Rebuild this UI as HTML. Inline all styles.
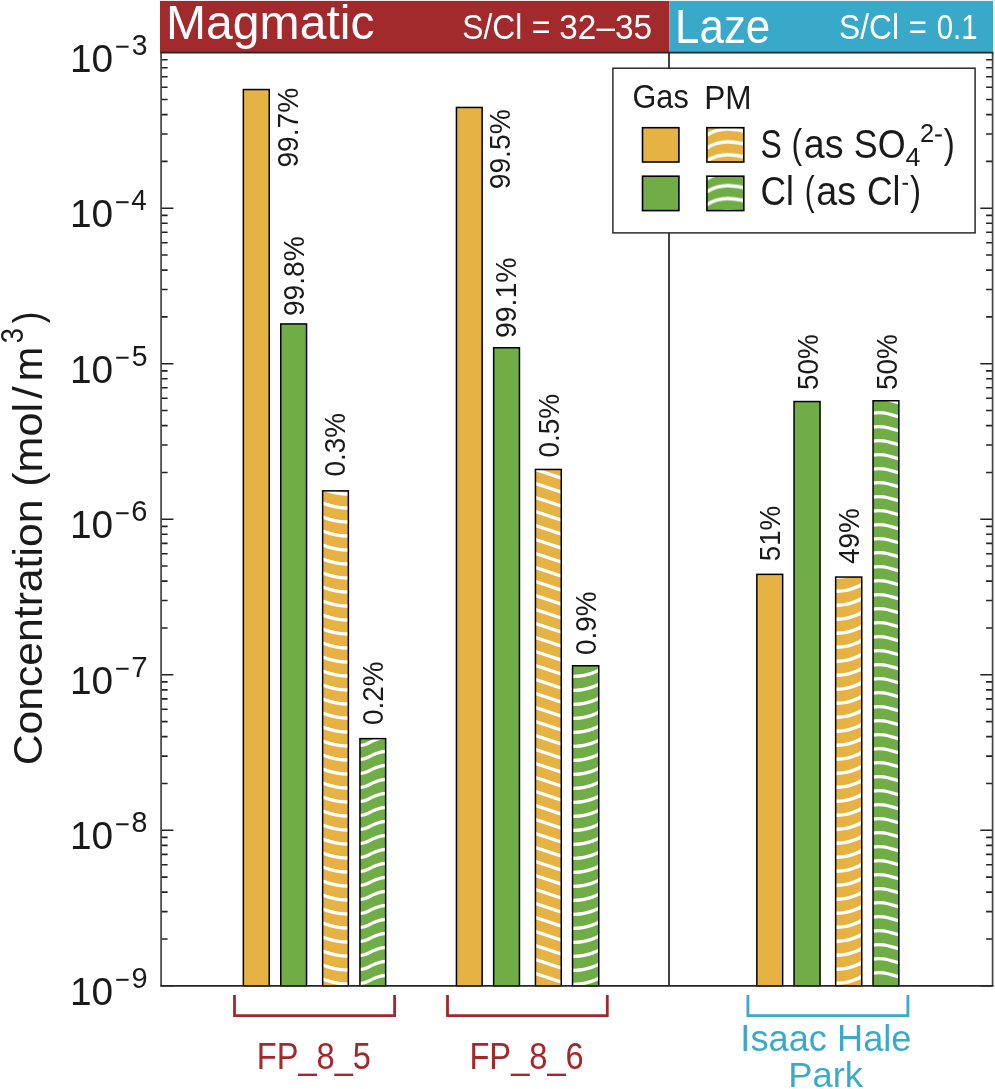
<!DOCTYPE html>
<html><head><meta charset="utf-8"><style>
html,body{margin:0;padding:0;background:#fff;}
body{width:995px;height:1089px;overflow:hidden;font-family:"Liberation Sans",sans-serif;}
svg{display:block;will-change:transform;}
</style></head><body>
<svg width="995" height="1089" viewBox="0 0 995 1089">
<defs>
<pattern id="h3" patternUnits="userSpaceOnUse" x="321.90" y="0" width="27.20" height="14.0"><rect width="27.20" height="14.0" fill="#E6B243"/><path d="M0,0 Q13.60,5.5 27.20,5.5" transform="translate(0,-15.30)" fill="none" stroke="#fff" stroke-width="3.3"/><path d="M0,0 Q13.60,5.5 27.20,5.5" transform="translate(0,-1.30)" fill="none" stroke="#fff" stroke-width="3.3"/><path d="M0,0 Q13.60,5.5 27.20,5.5" transform="translate(0,12.70)" fill="none" stroke="#fff" stroke-width="3.3"/><path d="M0,0 Q13.60,5.5 27.20,5.5" transform="translate(0,26.70)" fill="none" stroke="#fff" stroke-width="3.3"/><path d="M0,0 Q13.60,5.5 27.20,5.5" transform="translate(0,40.70)" fill="none" stroke="#fff" stroke-width="3.3"/></pattern>
<pattern id="h4" patternUnits="userSpaceOnUse" x="359.20" y="0" width="27.20" height="14.0"><rect width="27.20" height="14.0" fill="#71AD47"/><path d="M0,0 C10.34,0.3 13.60,-8.2 27.20,-8.2" transform="translate(0,-24.50)" fill="none" stroke="#fff" stroke-width="3.3"/><path d="M0,0 C10.34,0.3 13.60,-8.2 27.20,-8.2" transform="translate(0,-10.50)" fill="none" stroke="#fff" stroke-width="3.3"/><path d="M0,0 C10.34,0.3 13.60,-8.2 27.20,-8.2" transform="translate(0,3.50)" fill="none" stroke="#fff" stroke-width="3.3"/><path d="M0,0 C10.34,0.3 13.60,-8.2 27.20,-8.2" transform="translate(0,17.50)" fill="none" stroke="#fff" stroke-width="3.3"/><path d="M0,0 C10.34,0.3 13.60,-8.2 27.20,-8.2" transform="translate(0,31.50)" fill="none" stroke="#fff" stroke-width="3.3"/></pattern>
<pattern id="h7" patternUnits="userSpaceOnUse" x="534.70" y="0" width="27.30" height="14.0"><rect width="27.30" height="14.0" fill="#E6B243"/><path d="M0,0 Q13.65,4.4 27.30,9.0" transform="translate(0,-20.70)" fill="none" stroke="#fff" stroke-width="3.3"/><path d="M0,0 Q13.65,4.4 27.30,9.0" transform="translate(0,-6.70)" fill="none" stroke="#fff" stroke-width="3.3"/><path d="M0,0 Q13.65,4.4 27.30,9.0" transform="translate(0,7.30)" fill="none" stroke="#fff" stroke-width="3.3"/><path d="M0,0 Q13.65,4.4 27.30,9.0" transform="translate(0,21.30)" fill="none" stroke="#fff" stroke-width="3.3"/><path d="M0,0 Q13.65,4.4 27.30,9.0" transform="translate(0,35.30)" fill="none" stroke="#fff" stroke-width="3.3"/></pattern>
<pattern id="h8" patternUnits="userSpaceOnUse" x="571.80" y="0" width="27.70" height="14.0"><rect width="27.70" height="14.0" fill="#71AD47"/><path d="M0,0 Q13.85,0.6 27.70,-6.5" transform="translate(0,-23.60)" fill="none" stroke="#fff" stroke-width="3.3"/><path d="M0,0 Q13.85,0.6 27.70,-6.5" transform="translate(0,-9.60)" fill="none" stroke="#fff" stroke-width="3.3"/><path d="M0,0 Q13.85,0.6 27.70,-6.5" transform="translate(0,4.40)" fill="none" stroke="#fff" stroke-width="3.3"/><path d="M0,0 Q13.85,0.6 27.70,-6.5" transform="translate(0,18.40)" fill="none" stroke="#fff" stroke-width="3.3"/><path d="M0,0 Q13.85,0.6 27.70,-6.5" transform="translate(0,32.40)" fill="none" stroke="#fff" stroke-width="3.3"/></pattern>
<pattern id="h11" patternUnits="userSpaceOnUse" x="834.90" y="0" width="27.60" height="14.0"><rect width="27.60" height="14.0" fill="#E6B243"/><path d="M0,0 Q13.80,0.6 27.60,-6.9" transform="translate(0,-24.80)" fill="none" stroke="#fff" stroke-width="3.3"/><path d="M0,0 Q13.80,0.6 27.60,-6.9" transform="translate(0,-10.80)" fill="none" stroke="#fff" stroke-width="3.3"/><path d="M0,0 Q13.80,0.6 27.60,-6.9" transform="translate(0,3.20)" fill="none" stroke="#fff" stroke-width="3.3"/><path d="M0,0 Q13.80,0.6 27.60,-6.9" transform="translate(0,17.20)" fill="none" stroke="#fff" stroke-width="3.3"/><path d="M0,0 Q13.80,0.6 27.60,-6.9" transform="translate(0,31.20)" fill="none" stroke="#fff" stroke-width="3.3"/></pattern>
<pattern id="h12" patternUnits="userSpaceOnUse" x="872.30" y="0" width="27.30" height="14.0"><rect width="27.30" height="14.0" fill="#71AD47"/><path d="M0,0 C10.37,-1.3 13.65,0.2 27.30,3.8" transform="translate(0,-20.90)" fill="none" stroke="#fff" stroke-width="3.3"/><path d="M0,0 C10.37,-1.3 13.65,0.2 27.30,3.8" transform="translate(0,-6.90)" fill="none" stroke="#fff" stroke-width="3.3"/><path d="M0,0 C10.37,-1.3 13.65,0.2 27.30,3.8" transform="translate(0,7.10)" fill="none" stroke="#fff" stroke-width="3.3"/><path d="M0,0 C10.37,-1.3 13.65,0.2 27.30,3.8" transform="translate(0,21.10)" fill="none" stroke="#fff" stroke-width="3.3"/><path d="M0,0 C10.37,-1.3 13.65,0.2 27.30,3.8" transform="translate(0,35.10)" fill="none" stroke="#fff" stroke-width="3.3"/></pattern>
<pattern id="lgS" patternUnits="userSpaceOnUse" x="706.2" y="128.90" width="40.00" height="12.9"><rect width="40.00" height="12.9" fill="#E6B243"/><path d="M0,6.6 Q9.77,0 21.70,0 Q29.70,0 40.00,2.6" transform="translate(0,-25.80)" fill="none" stroke="#fff" stroke-width="3.4"/><path d="M0,6.6 Q9.77,0 21.70,0 Q29.70,0 40.00,2.6" transform="translate(0,-12.90)" fill="none" stroke="#fff" stroke-width="3.4"/><path d="M0,6.6 Q9.77,0 21.70,0 Q29.70,0 40.00,2.6" transform="translate(0,0.00)" fill="none" stroke="#fff" stroke-width="3.4"/><path d="M0,6.6 Q9.77,0 21.70,0 Q29.70,0 40.00,2.6" transform="translate(0,12.90)" fill="none" stroke="#fff" stroke-width="3.4"/><path d="M0,6.6 Q9.77,0 21.70,0 Q29.70,0 40.00,2.6" transform="translate(0,25.80)" fill="none" stroke="#fff" stroke-width="3.4"/></pattern>
<pattern id="lgC" patternUnits="userSpaceOnUse" x="706.2" y="172.70" width="40.00" height="12.9"><rect width="40.00" height="12.9" fill="#71AD47"/><path d="M0,6.6 Q9.77,0 21.70,0 Q29.70,0 40.00,2.6" transform="translate(0,-25.80)" fill="none" stroke="#fff" stroke-width="3.4"/><path d="M0,6.6 Q9.77,0 21.70,0 Q29.70,0 40.00,2.6" transform="translate(0,-12.90)" fill="none" stroke="#fff" stroke-width="3.4"/><path d="M0,6.6 Q9.77,0 21.70,0 Q29.70,0 40.00,2.6" transform="translate(0,0.00)" fill="none" stroke="#fff" stroke-width="3.4"/><path d="M0,6.6 Q9.77,0 21.70,0 Q29.70,0 40.00,2.6" transform="translate(0,12.90)" fill="none" stroke="#fff" stroke-width="3.4"/><path d="M0,6.6 Q9.77,0 21.70,0 Q29.70,0 40.00,2.6" transform="translate(0,25.80)" fill="none" stroke="#fff" stroke-width="3.4"/></pattern>
</defs>
<rect width="995" height="1089" fill="#fff"/>
<rect x="160.0" y="0.9" width="509.30" height="51.50" fill="#A32A2C"/>
<rect x="669.3" y="0.9" width="323.70" height="51.50" fill="#38A9C8"/>
<rect x="243.35" y="89.55" width="25.90" height="896.25" fill="#E6B243" stroke="#000" stroke-width="1.5"/>
<rect x="280.75" y="323.95" width="25.80" height="661.85" fill="#71AD47" stroke="#000" stroke-width="1.5"/>
<rect x="322.65" y="490.85" width="25.70" height="494.95" fill="url(#h3)" stroke="#000" stroke-width="1.5"/>
<rect x="359.95" y="738.65" width="25.70" height="247.15" fill="url(#h4)" stroke="#000" stroke-width="1.5"/>
<rect x="456.45" y="107.45" width="25.70" height="878.35" fill="#E6B243" stroke="#000" stroke-width="1.5"/>
<rect x="493.65" y="347.75" width="25.80" height="638.05" fill="#71AD47" stroke="#000" stroke-width="1.5"/>
<rect x="535.45" y="469.45" width="25.80" height="516.35" fill="url(#h7)" stroke="#000" stroke-width="1.5"/>
<rect x="572.55" y="665.75" width="26.20" height="320.05" fill="url(#h8)" stroke="#000" stroke-width="1.5"/>
<rect x="756.85" y="574.35" width="25.80" height="411.45" fill="#E6B243" stroke="#000" stroke-width="1.5"/>
<rect x="794.05" y="401.55" width="26.00" height="584.25" fill="#71AD47" stroke="#000" stroke-width="1.5"/>
<rect x="835.65" y="577.05" width="26.10" height="408.75" fill="url(#h11)" stroke="#000" stroke-width="1.5"/>
<rect x="873.05" y="400.75" width="25.80" height="585.05" fill="url(#h12)" stroke="#000" stroke-width="1.5"/>
<path d="M161.10,985.80h12.3M992.60,985.80h-12.3M161.10,938.98h6.5M992.60,938.98h-6.5M161.10,911.60h6.5M992.60,911.60h-6.5M161.10,892.17h6.5M992.60,892.17h-6.5M161.10,877.10h6.5M992.60,877.10h-6.5M161.10,864.78h6.5M992.60,864.78h-6.5M161.10,854.37h6.5M992.60,854.37h-6.5M161.10,845.35h6.5M992.60,845.35h-6.5M161.10,837.40h6.5M992.60,837.40h-6.5M161.10,830.28h12.3M992.60,830.28h-12.3M161.10,783.47h6.5M992.60,783.47h-6.5M161.10,756.08h6.5M992.60,756.08h-6.5M161.10,736.65h6.5M992.60,736.65h-6.5M161.10,721.58h6.5M992.60,721.58h-6.5M161.10,709.27h6.5M992.60,709.27h-6.5M161.10,698.86h6.5M992.60,698.86h-6.5M161.10,689.84h6.5M992.60,689.84h-6.5M161.10,681.88h6.5M992.60,681.88h-6.5M161.10,674.77h12.3M992.60,674.77h-12.3M161.10,627.95h6.5M992.60,627.95h-6.5M161.10,600.57h6.5M992.60,600.57h-6.5M161.10,581.14h6.5M992.60,581.14h-6.5M161.10,566.07h6.5M992.60,566.07h-6.5M161.10,553.75h6.5M992.60,553.75h-6.5M161.10,543.34h6.5M992.60,543.34h-6.5M161.10,534.32h6.5M992.60,534.32h-6.5M161.10,526.37h6.5M992.60,526.37h-6.5M161.10,519.25h12.3M992.60,519.25h-12.3M161.10,472.43h6.5M992.60,472.43h-6.5M161.10,445.05h6.5M992.60,445.05h-6.5M161.10,425.62h6.5M992.60,425.62h-6.5M161.10,410.55h6.5M992.60,410.55h-6.5M161.10,398.23h6.5M992.60,398.23h-6.5M161.10,387.82h6.5M992.60,387.82h-6.5M161.10,378.80h6.5M992.60,378.80h-6.5M161.10,370.85h6.5M992.60,370.85h-6.5M161.10,363.73h12.3M992.60,363.73h-12.3M161.10,316.92h6.5M992.60,316.92h-6.5M161.10,289.53h6.5M992.60,289.53h-6.5M161.10,270.10h6.5M992.60,270.10h-6.5M161.10,255.03h6.5M992.60,255.03h-6.5M161.10,242.72h6.5M992.60,242.72h-6.5M161.10,232.31h6.5M992.60,232.31h-6.5M161.10,223.29h6.5M992.60,223.29h-6.5M161.10,215.33h6.5M992.60,215.33h-6.5M161.10,208.22h12.3M992.60,208.22h-12.3M161.10,161.40h6.5M992.60,161.40h-6.5M161.10,134.02h6.5M992.60,134.02h-6.5M161.10,114.59h6.5M992.60,114.59h-6.5M161.10,99.52h6.5M992.60,99.52h-6.5M161.10,87.20h6.5M992.60,87.20h-6.5M161.10,76.79h6.5M992.60,76.79h-6.5M161.10,67.77h6.5M992.60,67.77h-6.5M161.10,59.82h6.5M992.60,59.82h-6.5" stroke="#222" stroke-width="1.6" fill="none"/>
<path d="M161.10,52.70V985.80M992.60,985.80V52.70" stroke="#444" stroke-width="1.7" fill="none"/>
<path d="M160.25,52.70H993.45M160.25,985.80H993.45" stroke="#262626" stroke-width="1.7" fill="none"/>
<path d="M669.00,52.70V985.80" stroke="#222" stroke-width="1.7" fill="none"/>
<rect x="612.9" y="68.2" width="362.20" height="164.70" fill="#fff" stroke="#2a2a2a" stroke-width="1.5"/>
<rect x="642.50" y="127.70" width="36.40" height="34.30" fill="#E6B243" stroke="#000" stroke-width="1.6"/>
<rect x="706.90" y="127.70" width="36.90" height="34.30" fill="url(#lgS)" stroke="#000" stroke-width="1.6"/>
<rect x="642.50" y="176.20" width="36.40" height="34.40" fill="#71AD47" stroke="#000" stroke-width="1.6"/>
<rect x="706.90" y="176.20" width="36.90" height="34.40" fill="url(#lgC)" stroke="#000" stroke-width="1.6"/>
<g font-family="Liberation Sans, sans-serif" style="font-kerning:none;font-variant-ligatures:none">
<text transform="translate(166.05,39.00) scale(1.0029,1)" font-size="47.97" fill="#fff">Magmatic</text>
<text transform="translate(462.36,38.90) scale(0.8953,1)" font-size="35.45" fill="#fff">S/Cl</text>
<text transform="translate(531.83,38.90) scale(0.9057,1)" font-size="35.45" fill="#fff">=</text>
<text transform="translate(559.33,38.90) scale(0.9400,1)" font-size="35.45" fill="#fff">32–35</text>
<text transform="translate(674.99,42.60) scale(0.9196,1)" font-size="47.82" fill="#fff">Laze</text>
<text transform="translate(839.06,38.90) scale(0.9062,1)" font-size="35.03" fill="#fff">S/Cl</text>
<text transform="translate(908.68,38.90) scale(0.8873,1)" font-size="35.03" fill="#fff">=</text>
<text transform="translate(936.75,38.90) scale(0.8374,1)" font-size="35.03" fill="#fff">0.1</text>
<text transform="translate(632.56,108.30) scale(0.9198,1)" font-size="33.28" fill="#1a1a1a">Gas</text>
<text transform="translate(704.31,108.50) scale(0.9490,1)" font-size="33.28" fill="#1a1a1a">PM</text>
<text transform="translate(760.45,158.20) scale(0.7892,1)" font-size="40.50" fill="#1a1a1a">S</text>
<text transform="translate(791.51,158.20) scale(0.7916,1)" font-size="40.50" fill="#1a1a1a">(</text>
<text transform="translate(803.81,158.20) scale(0.9270,1)" font-size="40.50" fill="#1a1a1a">as</text>
<text transform="translate(853.87,158.20) scale(0.8860,1)" font-size="40.50" fill="#1a1a1a">SO</text>
<text transform="translate(905.59,165.90) scale(1.0072,1)" font-size="26.60" fill="#1a1a1a">4</text>
<text transform="translate(920.02,142.20) scale(1.0015,1)" font-size="25.42" fill="#1a1a1a">2</text>
<rect x="935.1" y="134.4" width="6.7" height="2.1" fill="#1a1a1a"/>
<text transform="translate(943.81,158.20) scale(0.8195,1)" font-size="40.50" fill="#1a1a1a">)</text>
<text transform="translate(760.41,205.00) scale(0.8722,1)" font-size="40.50" fill="#1a1a1a">Cl</text>
<text transform="translate(804.85,205.00) scale(0.7357,1)" font-size="40.50" fill="#1a1a1a">(</text>
<text transform="translate(816.20,205.00) scale(0.9320,1)" font-size="40.50" fill="#1a1a1a">as</text>
<text transform="translate(867.00,205.00) scale(0.8752,1)" font-size="40.50" fill="#1a1a1a">Cl</text>
<rect x="902.5" y="182.8" width="5.5" height="2.0" fill="#1a1a1a"/>
<text transform="translate(910.11,205.00) scale(0.8195,1)" font-size="40.50" fill="#1a1a1a">)</text>
<text transform="translate(70.04,71.50) scale(1.0154,1)" font-size="38.23" fill="#1a1a1a">10</text>
<rect x="116.2" y="45.70" width="12.4" height="2.0" fill="#1a1a1a"/>
<text transform="translate(131.72,54.90) scale(0.9529,1)" font-size="29.66" fill="#1a1a1a">3</text>
<text transform="translate(70.04,227.02) scale(1.0154,1)" font-size="38.23" fill="#1a1a1a">10</text>
<rect x="116.2" y="201.22" width="12.4" height="2.0" fill="#1a1a1a"/>
<text transform="translate(131.16,210.42) scale(0.9367,1)" font-size="29.66" fill="#1a1a1a">4</text>
<text transform="translate(70.04,382.53) scale(1.0154,1)" font-size="38.23" fill="#1a1a1a">10</text>
<rect x="116.2" y="356.73" width="12.4" height="2.0" fill="#1a1a1a"/>
<text transform="translate(131.67,365.93) scale(0.9529,1)" font-size="29.66" fill="#1a1a1a">5</text>
<text transform="translate(70.04,538.05) scale(1.0154,1)" font-size="38.23" fill="#1a1a1a">10</text>
<rect x="116.2" y="512.25" width="12.4" height="2.0" fill="#1a1a1a"/>
<text transform="translate(131.33,521.45) scale(0.9791,1)" font-size="29.66" fill="#1a1a1a">6</text>
<text transform="translate(70.04,693.57) scale(1.0154,1)" font-size="38.23" fill="#1a1a1a">10</text>
<rect x="116.2" y="667.77" width="12.4" height="2.0" fill="#1a1a1a"/>
<text transform="translate(131.29,676.97) scale(0.9938,1)" font-size="29.66" fill="#1a1a1a">7</text>
<text transform="translate(70.04,849.08) scale(1.0154,1)" font-size="38.23" fill="#1a1a1a">10</text>
<rect x="116.2" y="823.28" width="12.4" height="2.0" fill="#1a1a1a"/>
<text transform="translate(131.56,832.48) scale(0.9628,1)" font-size="29.66" fill="#1a1a1a">8</text>
<text transform="translate(70.04,1004.60) scale(1.0154,1)" font-size="38.23" fill="#1a1a1a">10</text>
<rect x="116.2" y="978.80" width="12.4" height="2.0" fill="#1a1a1a"/>
<text transform="translate(131.44,988.00) scale(0.9780,1)" font-size="29.66" fill="#1a1a1a">9</text>
<text transform="translate(42.00,765.37) rotate(-90) scale(1.0339,1)" font-size="41.30" fill="#1a1a1a">Concentration</text>
<text transform="translate(42.00,486.87) rotate(-90) scale(1.0443,1)" font-size="41.30" fill="#1a1a1a">(mol</text>
<text transform="translate(42.00,398.70) rotate(-90) scale(1.0981,1)" font-size="41.30" fill="#1a1a1a">/</text>
<text transform="translate(42.00,381.35) rotate(-90) scale(1.0021,1)" font-size="41.30" fill="#1a1a1a">m</text>
<text transform="translate(23.20,343.34) rotate(-90) scale(0.8638,1)" font-size="31.50" fill="#1a1a1a">3</text>
<text transform="translate(42.00,323.20) rotate(-90) scale(0.8402,1)" font-size="41.30" fill="#1a1a1a">)</text>
<text transform="translate(298.41,167.62) rotate(-90) scale(0.9414,1)" font-size="29.94" fill="#1a1a1a">99.7%</text>
<text transform="translate(303.91,316.12) rotate(-90) scale(0.9504,1)" font-size="29.66" fill="#1a1a1a">99.8%</text>
<text transform="translate(345.31,476.49) rotate(-90) scale(0.9466,1)" font-size="29.52" fill="#1a1a1a">0.3%</text>
<text transform="translate(382.81,725.09) rotate(-90) scale(0.9288,1)" font-size="30.08" fill="#1a1a1a">0.2%</text>
<text transform="translate(510.41,189.32) rotate(-90) scale(0.9438,1)" font-size="29.94" fill="#1a1a1a">99.5%</text>
<text transform="translate(515.61,338.03) rotate(-90) scale(0.9611,1)" font-size="29.52" fill="#1a1a1a">99.1%</text>
<text transform="translate(558.90,457.60) rotate(-90) scale(0.9231,1)" font-size="30.37" fill="#1a1a1a">0.5%</text>
<text transform="translate(596.00,655.09) rotate(-90) scale(0.9244,1)" font-size="30.23" fill="#1a1a1a">0.9%</text>
<text transform="translate(780.11,561.31) rotate(-90) scale(0.9234,1)" font-size="30.08" fill="#1a1a1a">51%</text>
<text transform="translate(817.61,389.92) rotate(-90) scale(0.9269,1)" font-size="30.08" fill="#1a1a1a">50%</text>
<text transform="translate(858.91,564.04) rotate(-90) scale(0.9361,1)" font-size="29.80" fill="#1a1a1a">49%</text>
<text transform="translate(896.51,389.92) rotate(-90) scale(0.9269,1)" font-size="30.08" fill="#1a1a1a">50%</text>
<text transform="translate(256.72,1069.10) scale(0.8878,1)" font-size="36.77" fill="#A3282C">FP_8_5</text>
<text transform="translate(469.42,1069.10) scale(0.8883,1)" font-size="36.77" fill="#A3282C">FP_8_6</text>
<text transform="translate(740.36,1051.30) scale(0.9930,1)" font-size="36.48" fill="#3AAACB">Isaac Hale</text>
<text transform="translate(788.32,1086.50) scale(1.0375,1)" font-size="35.03" fill="#3AAACB">Park</text>
</g>
<path d="M234.5,995 V1015.6 H394.6 V995" stroke="#A3282C" stroke-width="2.8" fill="none"/>
<path d="M447.5,995 V1015.6 H607.3 V995" stroke="#A3282C" stroke-width="2.8" fill="none"/>
<path d="M747.9,995 V1015.6 H907.9 V995" stroke="#3AAACB" stroke-width="2.8" fill="none"/>
</svg>
</body></html>
